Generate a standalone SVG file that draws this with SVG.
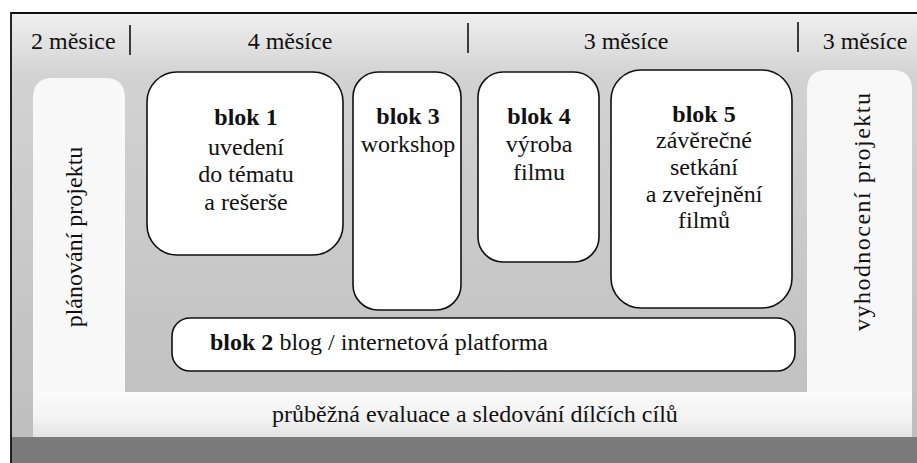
<svg xmlns="http://www.w3.org/2000/svg" width="917" height="463" viewBox="0 0 917 463">
<defs>
<style>
text{font-size:24px;fill:#111}
.b{font-weight:bold}
.box{fill:#fff;stroke:#111;stroke-width:1.6}
.sep{stroke:#111;stroke-width:1.6}
.c{text-anchor:middle}
</style>
<linearGradient id="bg" x1="0" y1="0" x2="0" y2="1" gradientUnits="objectBoundingBox">
<stop offset="0" stop-color="#f0f0f0"/>
<stop offset="0.15" stop-color="#d2d2d2"/>
<stop offset="1" stop-color="#bfbfbf"/>
</linearGradient>
<linearGradient id="wb" x1="0" y1="0" x2="0" y2="1">
<stop offset="0" stop-color="#fbfbfb"/>
<stop offset="0.6" stop-color="#f2f2f2"/>
<stop offset="1" stop-color="#e4e4e4"/>
</linearGradient>
</defs>
<g id="background">
<rect x="0" y="0" width="917" height="463" fill="#fff"/>
<rect x="11" y="13" width="906" height="424" fill="url(#bg)"/>
<rect x="11" y="437" width="906" height="26" fill="#7a7a7a"/>
<path d="M33,437 L33,98 Q33,78 53,78 L105,78 Q125,78 125,98 L125,392 L807,392 L807,90 Q807,70 827,70 L892,70 Q912,70 912,90 L912,437 Z" fill="#f8f8f8"/>
<rect x="33" y="392" width="879" height="45" fill="url(#wb)"/>
<path d="M11,463 L11,13 L917,13" fill="none" stroke="#111" stroke-width="1.8"/>
</g>
<g font-family="Liberation Serif, Tinos, Times New Roman, DejaVu Serif, serif">
<g id="timeline">
<text x="31" y="49">2 měsice</text>
<line class="sep" x1="130" y1="25" x2="130" y2="55"/>
<text class="c" x="290" y="49">4 měsíce</text>
<line class="sep" x1="468" y1="23" x2="468" y2="53"/>
<text class="c" x="626" y="49">3 měsíce</text>
<line class="sep" x1="798" y1="22" x2="798" y2="52"/>
<text class="c" x="865" y="49">3 měsíce</text>
</g>
<g id="planovani">
<text class="c" transform="translate(82,237) rotate(-90)">plánování projektu</text>
</g>
<g id="vyhodnoceni">
<text class="c" transform="translate(870,212) rotate(-90)" textLength="238" lengthAdjust="spacing">vyhodnocení projektu</text>
</g>
<g id="evaluace">
<text x="272" y="422">průběžná evaluace a sledování dílčích cílů</text>
</g>
<g id="blok1">
<rect class="box" x="147" y="72" width="196" height="183" rx="30"/>
<text class="c b" x="246" y="125">blok 1</text>
<text class="c" x="246" y="155">uvedení</text>
<text class="c" x="246" y="182">do tématu</text>
<text class="c" x="246" y="210">a rešerše</text>
</g>
<g id="blok3">
<rect class="box" x="353" y="72" width="108" height="238" rx="25"/>
<text class="c b" x="408" y="124">blok 3</text>
<text class="c" x="408" y="152">workshop</text>
</g>
<g id="blok4">
<rect class="box" x="478" y="72" width="121" height="190" rx="25"/>
<text class="c b" x="539" y="124">blok 4</text>
<text class="c" x="539" y="152">výroba</text>
<text class="c" x="539" y="180">filmu</text>
</g>
<g id="blok5">
<rect class="box" x="611" y="70" width="181" height="238" rx="30"/>
<text class="c b" x="704" y="122">blok 5</text>
<text class="c" x="704" y="148">závěrečné</text>
<text class="c" x="704" y="175">setkání</text>
<text class="c" x="704" y="202">a zveřejnění</text>
<text class="c" x="704" y="228">filmů</text>
</g>
<g id="blok2">
<rect class="box" x="172" y="318" width="623" height="53" rx="18"/>
<text x="210" y="350"><tspan class="b">blok 2</tspan> blog / internetová platforma</text>
</g>
</g>
<g id="connectors"></g>
</svg>
